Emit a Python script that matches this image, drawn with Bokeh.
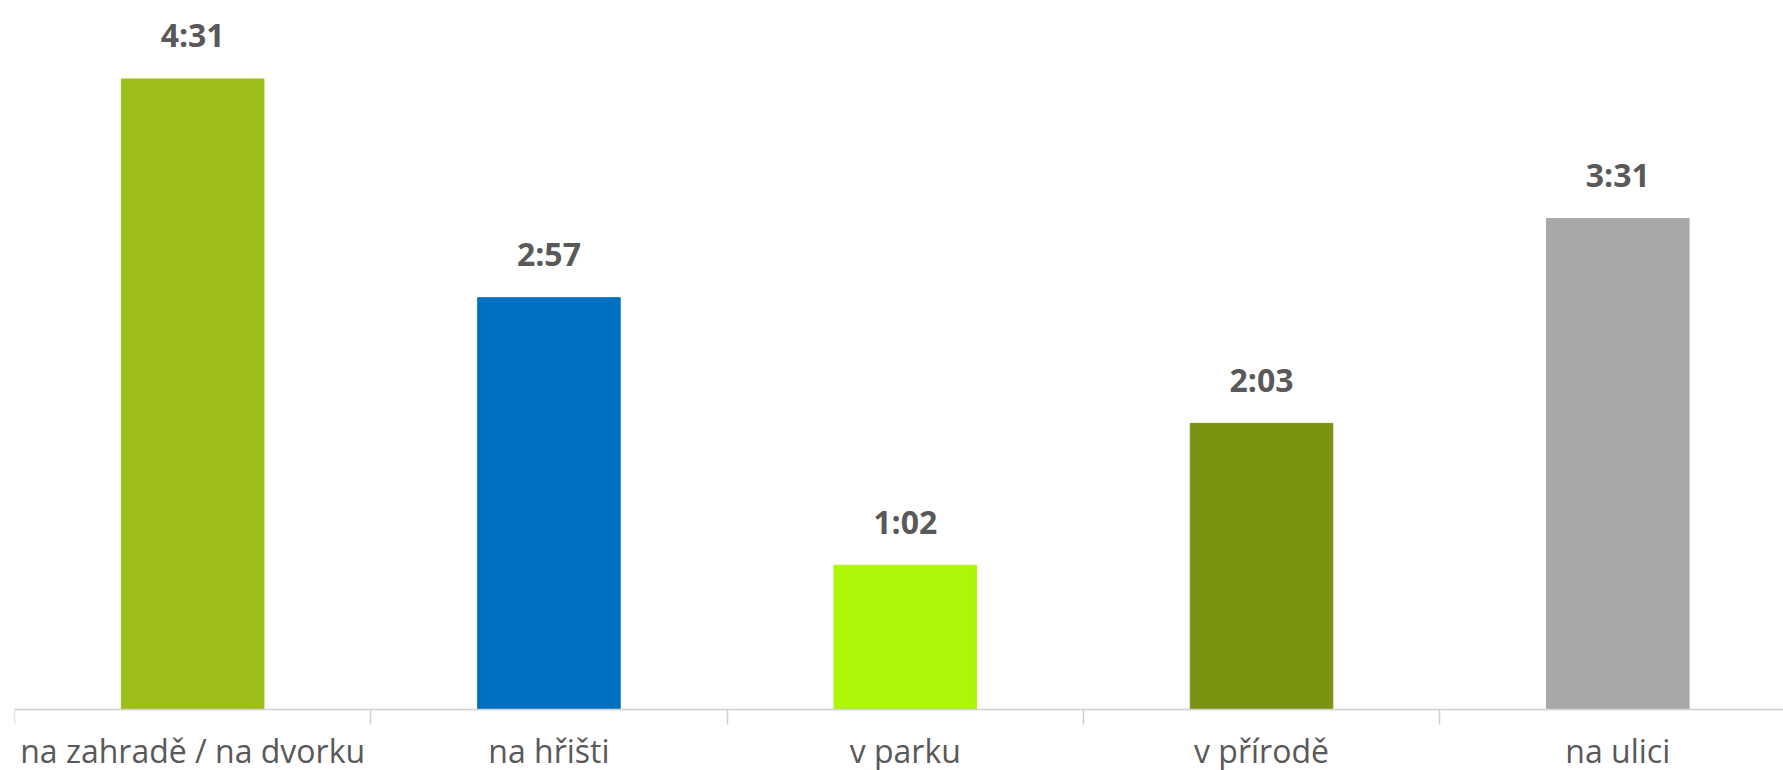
from bokeh.plotting import figure
from bokeh.models import FixedTicker, ColumnDataSource, Range1d
from bokeh.core.properties import value
from bokeh.embed import file_html
from bokeh.resources import INLINE

categories = ["na zahradě / na dvorku", "na hřišti", "v parku", "v přírodě", "na ulici"]
minutes = [271, 177, 62, 123, 211]
labels = ["4:31", "2:57", "1:02", "2:03", "3:31"]
colors = ["#9DBD19", "#0070C0", "#AEF507", "#7A9412", "#A8A8A8"]

xs = list(range(len(categories)))
src = ColumnDataSource(dict(x=xs, top=minutes, lab=labels, color=colors))

p = figure(width=1783, height=770, output_backend="svg", toolbar_location=None,
           x_range=Range1d(-0.5, 4.465), y_range=Range1d(-26.2, 300),
           y_axis_location=None, min_border_left=14, min_border_right=0,
           min_border_top=11, min_border_bottom=0)
p.outline_line_color = None
p.grid.visible = False

p.vbar(x="x", top="top", bottom=0, width=0.4, color="color", source=src)
p.text(x="x", y="top", text="lab", source=src, text_align="center",
       text_baseline="alphabetic", y_offset=-44,
       text_font=value("Open Sans"), text_font_style="bold",
       text_font_size="32px", text_color="#595959")

ax = p.xaxis[0]
ax.fixed_location = 0
ax.ticker = FixedTicker(ticks=xs, minor_ticks=[i - 0.5 for i in range(len(categories) + 1)])
ax.major_label_overrides = {i: c for i, c in enumerate(categories)}
ax.major_tick_out = 0
ax.major_tick_in = 0
ax.minor_tick_out = 15
ax.minor_tick_in = 0
ax.minor_tick_line_color = "#D0D0D0"
ax.minor_tick_line_width = 1.5
ax.axis_line_color = "#D0D0D0"
ax.axis_line_width = 1.5
ax.major_label_standoff = 4
ax.major_label_text_font = "Open Sans"
ax.major_label_text_font_size = "32px"
ax.major_label_text_color = "#595959"

open("out.html", "w").write(file_html(p, INLINE))
